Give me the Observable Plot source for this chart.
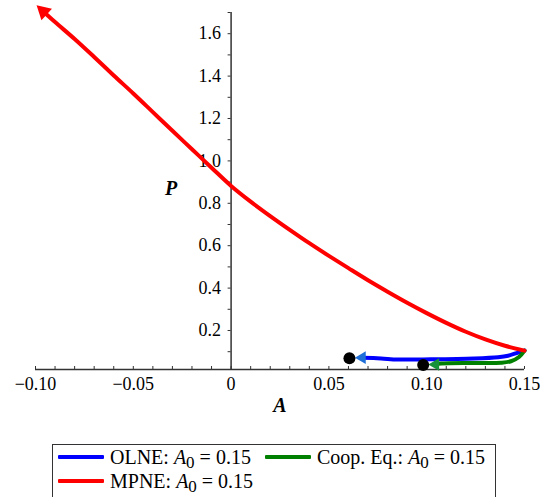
<!DOCTYPE html>
<html>
<head>
<meta charset="utf-8">
<script src="https://cdn.jsdelivr.net/npm/d3@7"></script>
<script src="https://cdn.jsdelivr.net/npm/@observablehq/plot@0.6"></script>
<style>
  html, body { margin: 0; padding: 0; background: #fff; }
  body { font-family: "Liberation Serif", "Times New Roman", serif; color: #000; width: 547px; }
  #legend { position: relative; margin-left: 52px; margin-top: 4px; width: 442px; height: 60px; border: 1px solid #333; }
  .item { position: absolute; font-size: 20px; white-space: nowrap; line-height: 22px; }
  .sw { display: inline-block; width: 46px; height: 4px; margin-right: 6px; border-radius: 1px; vertical-align: middle; position: relative; top: -2px; }
  .item i { font-style: italic; }
  .item .sb { position: relative; top: 4px; font-size: 17px; }
</style>
</head>
<body>
<div id="chart"></div>
<div id="legend"></div>
<script>
// ---- data ----
const mpneA = [0.15, 0.14, 0.13, 0.12, 0.11, 0.10, 0.09, 0.08, 0.07, 0.06, 0.05, 0.04, 0.03, 0.02, 0.01, 0.00, -0.01, -0.02, -0.03, -0.04, -0.05, -0.06, -0.07, -0.08, -0.09, -0.096];
const mpneP = [0.105, 0.128, 0.158, 0.194, 0.236, 0.282, 0.331, 0.383, 0.437, 0.494, 0.552, 0.612, 0.675, 0.740, 0.808, 0.882, 0.968, 1.055, 1.142, 1.230, 1.318, 1.403, 1.490, 1.575, 1.655, 1.705];

const olneA = [0.15, 0.1467, 0.1416, 0.1365, 0.1242, 0.1022, 0.0854, 0.0767, 0.067];
const olneP = [0.105, 0.096, 0.081, 0.074, 0.068, 0.064, 0.063, 0.068, 0.072];

const coopA = [0.15, 0.1472, 0.1431, 0.138, 0.1227, 0.1074, 0.1045];
const coopP = [0.105, 0.075, 0.055, 0.048, 0.047, 0.044, 0.040];

// arrowheads (position, direction in degrees) and end points
const arrowA = [-0.096, 0.067, 0.1045];
const arrowP = [1.705, 0.072, 0.040];
const arrowAngle = [-48, -90, -90];
const endA = [0.0605, 0.0982];
const endP = [0.069, 0.037];

const xTicks = [-0.10, -0.05, 0, 0.05, 0.10, 0.15];
const xTickLabels = ["\u22120.10", "\u22120.05", "0", "0.05", "0.10", "0.15"];
const xMinor = [-0.09, -0.08, -0.07, -0.06, -0.04, -0.03, -0.02, -0.01, 0.01, 0.02, 0.03, 0.04, 0.06, 0.07, 0.08, 0.09, 0.11, 0.12, 0.13, 0.14];
const yTicks = [0.2, 0.4, 0.6, 0.8, 1.0, 1.2, 1.4, 1.6];
const yTickLabels = ["0.2", "0.4", "0.6", "0.8", "1.0", "1.2", "1.4", "1.6"];
const yMinor = [0.1, 0.3, 0.5, 0.7, 0.9, 1.1, 1.3, 1.5, 1.7];
const xDomain = [-0.10, 0.15];
const yDomain = [0.016, 1.70];

const seriesNames = ["OLNE", "Coop. Eq.", "MPNE"];
const seriesColors = ["#0000ff", "#008000", "#ff0000"];
const arrowColors = ["#ff0000", "#1e6fd8", "#17913a"];
const arrowSizes = [7.5, 6, 6];

const toRows = (A, P) => A.map((a, i) => ({A: a, P: P[i]}));
const mpne = toRows(mpneA, mpneP);
const olne = toRows(olneA, olneP);
const coop = toRows(coopA, coopP);
const ends = toRows(endA, endP);

const axisColor = "#333";

const arrowMarks = arrowA.map((a, i) =>
  Plot.dot([{A: a, P: arrowP[i]}], {x: "A", y: "P", symbol: "triangle2", r: arrowSizes[i], fill: arrowColors[i], stroke: "none", rotate: arrowAngle[i]})
);

const chart = Plot.plot({
  width: 547,
  height: 440,
  marginLeft: 35,
  marginRight: 23,
  marginTop: 12,
  marginBottom: 71,
  style: {fontFamily: "'Liberation Serif', 'Times New Roman', serif", fontSize: "18px", color: "#000", background: "#fff"},
  x: {domain: xDomain},
  y: {domain: yDomain},
  marks: [
    Plot.ruleY([yDomain[0]], {stroke: axisColor, strokeWidth: 1.5}),
    Plot.ruleX([0], {stroke: axisColor, strokeWidth: 1.5}),
    Plot.axisX(xTicks, {anchor: "bottom", tickSize: -3, tickPadding: 11, stroke: axisColor, tickFormat: d => xTickLabels[xTicks.indexOf(d)], label: null}),
    Plot.axisX(xMinor, {anchor: "bottom", tickSize: -3, stroke: axisColor, fill: "none", label: null}),
    Plot.axisY(yTicks, {anchor: "left", x: 0, tickSize: 3, tickPadding: 7, stroke: axisColor, tickFormat: d => yTickLabels[yTicks.indexOf(d)], label: null}),
    Plot.axisY(yMinor, {anchor: "left", x: 0, tickSize: 3, stroke: axisColor, fill: "none", label: null}),
    Plot.text(["P"], {x: 0, frameAnchor: "middle", dx: -60, dy: -2, fontStyle: "italic", fontSize: 20, fontWeight: "bold"}),
    Plot.text(["A"], {frameAnchor: "bottom", dy: 42, fontStyle: "italic", fontSize: 20, fontWeight: "bold"}),
    Plot.line(olne, {x: "A", y: "P", stroke: seriesColors[0], strokeWidth: 4, curve: "catmull-rom"}),
    Plot.line(coop, {x: "A", y: "P", stroke: seriesColors[1], strokeWidth: 4, curve: "catmull-rom"}),
    Plot.line(mpne, {x: "A", y: "P", stroke: seriesColors[2], strokeWidth: 4, curve: "catmull-rom"}),
    ...arrowMarks,
    Plot.dot(ends, {x: "A", y: "P", r: 6, fill: "#000"})
  ]
});
document.getElementById("chart").appendChild(chart);

// legend
const legend = document.getElementById("legend");
const legendPos = [{left: 5, top: 1}, {left: 212, top: 1}, {left: 5, top: 25}];
seriesNames.forEach((name, i) => {
  const div = document.createElement("div");
  div.className = "item";
  div.style.left = legendPos[i].left + "px";
  div.style.top = legendPos[i].top + "px";
  div.innerHTML = `<span class="sw" style="background:${seriesColors[i]}"></span>${name}: <i>A</i><span class="sb">0</span> = 0.15`;
  legend.appendChild(div);
});
</script>
</body>
</html>
